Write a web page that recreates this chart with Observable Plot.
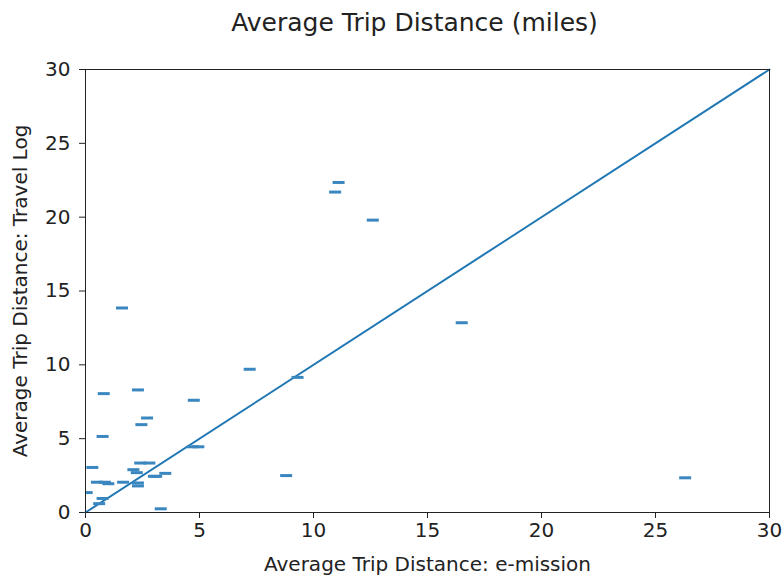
<!DOCTYPE html>
<html>
<head>
<meta charset="utf-8">
<script src="https://cdn.jsdelivr.net/npm/d3@7"></script>
<script src="https://cdn.jsdelivr.net/npm/@observablehq/plot@0.6"></script>
<style>
  body { margin: 0; background: #fff; }
  #chart svg { font-family: "DejaVu Sans", sans-serif; }
</style>
</head>
<body>
<div id="chart"></div>
<script>
const emission = [0.05, 0.3, 0.5, 0.85, 0.6, 0.75, 0.75, 0.8, 1.6, 1.0, 1.65, 2.3, 2.45, 2.7, 2.1, 2.4, 2.8, 2.3, 2.3, 3.0, 3.5, 3.3, 4.7, 4.95, 4.75, 7.2, 9.3, 8.8, 11.1, 10.95, 12.6, 16.5, 26.3, 2.25, 3.1];
const travelLog = [1.35, 3.05, 2.05, 2.05, 0.6, 0.95, 5.15, 8.05, 13.85, 1.95, 2.05, 8.3, 5.95, 6.4, 2.9, 3.35, 3.35, 2.0, 1.8, 2.45, 2.65, 0.25, 4.45, 4.45, 7.6, 9.7, 9.15, 2.5, 22.35, 21.7, 19.8, 12.85, 2.35, 2.7, 2.45];
const lineX = [0, 30];
const ticks = [0, 5, 10, 15, 20, 25, 30];
const title = "Average Trip Distance (miles)";
const xLabel = "Average Trip Distance: e-mission";
const yLabel = "Average Trip Distance: Travel Log";

const points = emission.map((x, i) => ({x, y: travelLog[i]}));
const diag = lineX.map(v => ({x: v, y: v}));

const hline = { draw(ctx, size) { ctx.rect(-6, -1.5, 12, 3); } };

const chart = Plot.plot({
  width: 782,
  height: 578,
  marginTop: 69,
  marginBottom: 66,
  marginLeft: 85,
  marginRight: 13,
  style: { fontSize: "20px", color: "#222", background: "#fff" },
  x: { domain: [0, 30], ticks, tickSize: 6, tickPadding: 4, label: xLabel, labelAnchor: "center", labelArrow: "none", labelOffset: 58 },
  y: { domain: [0, 30], ticks, tickSize: 6, tickPadding: 9, label: yLabel, labelAnchor: "center", labelArrow: "none", labelOffset: 73 },
  marks: [
    Plot.line(diag, { x: "x", y: "y", stroke: "#1f77b4", strokeWidth: 2 }),
    Plot.dot(points, { x: "x", y: "y", symbol: hline, r: 4, fill: "#3a87c0", stroke: "none", clip: true }),
    Plot.frame({ stroke: "#222", strokeWidth: 1 }),
    Plot.text([title], { text: d => d, frameAnchor: "top", lineAnchor: "middle", dy: -47, dx: -13, fontSize: 25, fill: "#222" })
  ]
});
document.getElementById("chart").appendChild(chart);
</script>
</body>
</html>
